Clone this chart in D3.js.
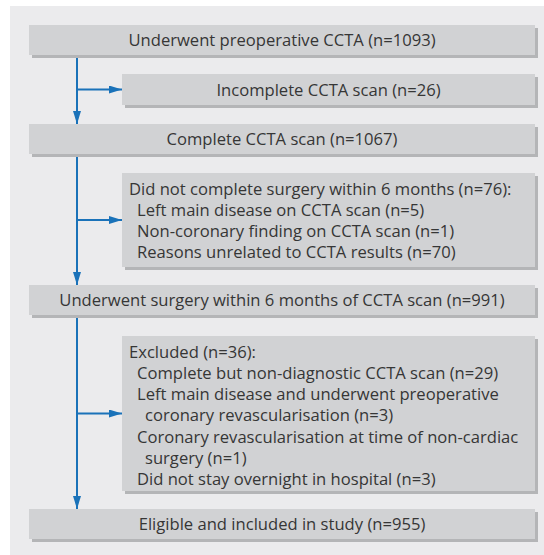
<!DOCTYPE html>
<html>
<head>
<meta charset="utf-8">
<script src="https://cdn.jsdelivr.net/npm/d3@7"></script>
<style>
  body { margin: 0; background: #ffffff; }
  svg text { font-family: "Open Sans", "Noto Sans", sans-serif; fill: #363636; }
</style>
</head>
<body>
<div id="chart"></div>
<script>
// flow steps on the main trunk
const mainLabels = [
    "Underwent preoperative CCTA (n=1093)",
    "Complete CCTA scan (n=1067)",
    "Underwent surgery within 6 months of CCTA scan (n=991)",
    "Eligible and included in study (n=955)"
];

// side boxes, each line is [indent level, text]
const sideLines = [
    [[-1, "Incomplete CCTA scan (n=26)"]],
    [[0, "Did not complete surgery within 6 months (n=76):"],
     [1, "Left main disease on CCTA scan (n=5)"],
     [1, "Non-coronary finding on CCTA scan (n=1)"],
     [1, "Reasons unrelated to CCTA results (n=70)"]],
    [[0, "Excluded (n=36):"],
     [1, "Complete but non-diagnostic CCTA scan (n=29)"],
     [1, "Left main disease and underwent preoperative"],
     [2, "coronary revascularisation (n=3)"],
     [1, "Coronary revascularisation at time of non-cardiac"],
     [2, "surgery (n=1)"],
     [1, "Did not stay overnight in hospital (n=3)"]]
];

const W = 544, H = 555;
const svg = d3.select("#chart").append("svg")
    .attr("width", W).attr("height", H);

// arrow head
svg.append("defs").append("marker")
    .attr("id", "arr")
    .attr("viewBox", "0 0 13 8")
    .attr("refX", 13).attr("refY", 4)
    .attr("markerWidth", 13).attr("markerHeight", 8)
    .attr("markerUnits", "userSpaceOnUse")
    .attr("orient", "auto")
    .append("path").attr("d", "M0,0 L13,4 L0,8 Z").attr("fill", "#1a72b9");

// panel
svg.append("rect")
    .attr("x", 10).attr("y", 6).attr("width", W - 10).attr("height", H - 6)
    .attr("fill", "#ebebed");

const mainX = 29, sideX = 122, boxRight = 535;
const mainH = 30;
const mainTops = [25, 124, 285, 509];
const sideTops = [74, 173, 336];
const sideH = [31, 94, 155];
const lineH = 21.3;
const trunkX = 77;
const fs = 16.6;

function drawBox(x, y, w, h) {
    svg.append("rect")
        .attr("x", x + 3).attr("y", y + 3).attr("width", w).attr("height", h)
        .attr("fill", "#b4b5b7");
    svg.append("rect")
        .attr("x", x).attr("y", y).attr("width", w).attr("height", h)
        .attr("fill", "#d1d2d4");
}

// trunk arrows first so boxes sit above them
for (let i = 0; i < mainTops.length - 1; i++) {
    let side = sideTops[i] + sideH[i] / 2;
    svg.append("line")
        .attr("x1", trunkX).attr("y1", mainTops[i] + mainH)
        .attr("x2", trunkX).attr("y2", mainTops[i + 1])
        .attr("stroke", "#1a72b9").attr("stroke-width", 2)
        .attr("marker-end", "url(#arr)");
    svg.append("line")
        .attr("x1", trunkX).attr("y1", side)
        .attr("x2", sideX).attr("y2", side)
        .attr("stroke", "#1a72b9").attr("stroke-width", 2)
        .attr("marker-end", "url(#arr)");
}

mainLabels.forEach(function(label, i) {
    drawBox(mainX, mainTops[i], boxRight - mainX, mainH);
    svg.append("text")
        .attr("x", (mainX + boxRight) / 2)
        .attr("y", mainTops[i] + mainH / 2 + 6)
        .attr("text-anchor", "middle")
        .attr("font-size", fs)
        .text(label);
});

sideLines.forEach(function(lines, i) {
    drawBox(sideX, sideTops[i], boxRight - sideX, sideH[i]);
    lines.forEach(function(l, j) {
        let t = svg.append("text").attr("font-size", fs);
        if (l[0] < 0) {
            t.attr("x", (sideX + boxRight) / 2)
                .attr("y", sideTops[i] + sideH[i] / 2 + 6)
                .attr("text-anchor", "middle");
        } else {
            t.attr("x", sideX + 7 + l[0] * 8)
                .attr("y", sideTops[i] + 21.5 + j * lineH);
        }
        t.text(l[1]);
    });
});
</script>
</body>
</html>
